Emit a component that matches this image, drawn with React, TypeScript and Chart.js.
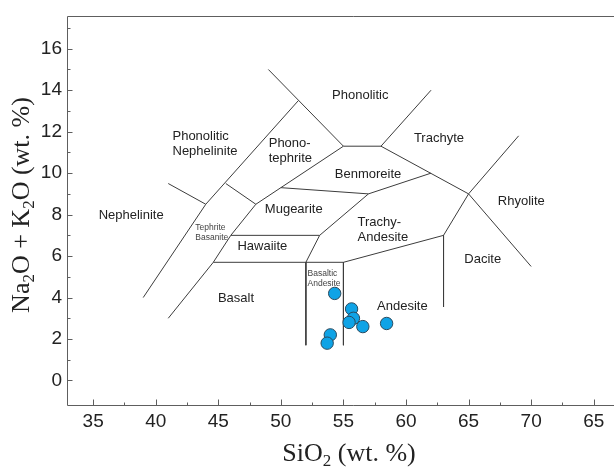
import React, { useEffect, useRef } from "react";
import { Chart, registerables } from "chart.js";

Chart.register(...registerables);

// Sample analyses
const sampleSiO2 = [54.3, 55.65, 55.8, 55.45, 56.55, 58.45, 53.95, 53.7];
const sampleAlkali = [4.2, 3.45, 3.0, 2.8, 2.6, 2.75, 2.2, 1.8];

// Axis ticks (the reference labels 75 as "65")
const xTickValues = [35, 40, 45, 50, 55, 60, 65, 70, 75];
const xTickLabels = ["35", "40", "45", "50", "55", "60", "65", "70", "65"];
const yTickValues = [0, 2, 4, 6, 8, 10, 12, 14, 16];
const yTickLabels = ["0", "2", "4", "6", "8", "10", "12", "14", "16"];
const xMinorTicks = [37.5, 42.5, 47.5, 52.5, 57.5, 62.5, 67.5, 72.5, 77.5];
const yMinorTicks = [1, 3, 5, 7, 9, 11, 13, 15, 17];

// TAS field boundaries (SiO2, Na2O+K2O)
const boundaryLines: number[][][] = [
  [[39, 4], [44, 8.5], [51.4, 13.5]],
  [[49, 15], [55, 11.3]],
  [[55, 11.3], [58, 11.3]],
  [[58, 11.3], [62, 14]],
  [[58, 11.3], [65, 9]],
  [[65, 9], [69, 11.8]],
  [[65, 9], [70, 5.5]],
  [[65, 9], [63, 7], [63, 3.55]],
  [[63, 7], [55, 5.7], [55, 1.7]],
  [[55, 5.7], [52, 5.7], [52, 1.7]],
  [[52, 5.7], [53.1, 7], [57, 9], [62, 10]],
  [[57, 9], [50, 9.3]],
  [[55, 11.3], [48, 8.5], [46, 7], [44.6, 5.7], [41, 3]],
  [[41, 9.5], [44, 8.5]],
  [[45.6, 9.5], [48, 8.5]],
  [[46, 7], [53.1, 7]],
  [[44.6, 5.7], [52, 5.7]],
];

// Field names: text, left SiO2, first-line alkali, small font flag
const fieldNames = [
  "Phonolitic", "Trachyte", "Phonolitic\nNephelinite", "Phono-\ntephrite",
  "Benmoreite", "Rhyolite", "Nephelinite", "Mugearite", "Trachy-\nAndesite",
  "Tephrite\nBasanite", "Hawaiite", "Dacite", "Basaltic\nAndesite", "Basalt", "Andesite",
];
const fieldX = [54.09, 60.63, 41.34, 49.03, 54.31, 67.34, 35.44, 48.72, 56.13, 43.16, 46.53, 64.66, 52.13, 44.97, 57.69];
const fieldY = [13.74, 11.66, 11.77, 11.42, 9.95, 8.63, 7.95, 8.23, 7.63, 7.39, 6.49, 5.85, 5.17, 3.95, 3.59];
const fieldSmall = [false, false, false, false, false, false, false, false, false, true, false, false, true, false, false];

type Part = { t: string; sub?: boolean };
const xTitle: Part[] = [{ t: "SiO" }, { t: "2", sub: true }, { t: " (wt. %)" }];
const yTitle: Part[] = [
  { t: "Na" }, { t: "2", sub: true }, { t: "O + K" }, { t: "2", sub: true }, { t: "O (wt. %)" },
];

const SERIF = "'Liberation Serif', 'Times New Roman', serif";
const SANS = "'Liberation Sans', Arial, sans-serif";

function drawRich(ctx: CanvasRenderingContext2D, parts: Part[], cx: number, baseY: number, size: number) {
  const subSize = Math.round(size * 0.66);
  let total = 0;
  const widths = parts.map((p) => {
    ctx.font = `${p.sub ? subSize : size}px ${SERIF}`;
    const w = ctx.measureText(p.t).width;
    total += w;
    return w;
  });
  let x = cx - total / 2;
  ctx.textAlign = "left";
  ctx.textBaseline = "alphabetic";
  parts.forEach((p, i) => {
    ctx.font = `${p.sub ? subSize : size}px ${SERIF}`;
    ctx.fillText(p.t, x, baseY + (p.sub ? size * 0.2 : 0));
    x += widths[i];
  });
}

const overlay = {
  id: "tasOverlay",
  beforeDatasetsDraw(chart: any) {
    const ctx: CanvasRenderingContext2D = chart.ctx;
    const xs = chart.scales.x;
    const ys = chart.scales.y;
    ctx.save();
    ctx.textAlign = "left";
    ctx.textBaseline = "middle";
    fieldNames.forEach((name, i) => {
      const size = fieldSmall[i] ? 8.5 : 13;
      ctx.font = `${size}px ${SANS}`;
      ctx.fillStyle = fieldSmall[i] ? "#444" : "#222";
      const lh = fieldSmall[i] ? 10 : 15;
      const px = xs.getPixelForValue(fieldX[i]);
      const py = ys.getPixelForValue(fieldY[i]);
      name.split("\n").forEach((line, j) => ctx.fillText(line, px, py + j * lh));
    });
    ctx.restore();
  },
  afterDraw(chart: any) {
    const ctx: CanvasRenderingContext2D = chart.ctx;
    const xs = chart.scales.x;
    const ys = chart.scales.y;
    const a = chart.chartArea;
    ctx.save();
    ctx.strokeStyle = "#5e5e5e";
    ctx.lineWidth = 1;
    const L = Math.round(a.left) + 0.5;
    const T = Math.round(a.top) + 0.5;
    const B = Math.round(a.bottom) - 0.5;
    ctx.beginPath();
    ctx.moveTo(chart.width, T);
    ctx.lineTo(L, T);
    ctx.lineTo(L, B);
    ctx.lineTo(chart.width, B);
    ctx.stroke();
    ctx.beginPath();
    xTickValues.forEach((v) => {
      const p = Math.round(xs.getPixelForValue(v)) + 0.5;
      ctx.moveTo(p, B);
      ctx.lineTo(p, B - 6);
    });
    xMinorTicks.forEach((v) => {
      const p = Math.round(xs.getPixelForValue(v)) + 0.5;
      ctx.moveTo(p, B);
      ctx.lineTo(p, B - 3);
    });
    yTickValues.forEach((v) => {
      const p = Math.round(ys.getPixelForValue(v)) + 0.5;
      ctx.moveTo(L, p);
      ctx.lineTo(L + 5, p);
    });
    yMinorTicks.forEach((v) => {
      const p = Math.round(ys.getPixelForValue(v)) + 0.5;
      ctx.moveTo(L, p);
      ctx.lineTo(L + 3, p);
    });
    ctx.stroke();

    ctx.fillStyle = "#222";
    drawRich(ctx, xTitle, 349, 461, 26);
    ctx.translate(29, 205);
    ctx.rotate(-Math.PI / 2);
    drawRich(ctx, yTitle, 0, 0, 26);
    ctx.restore();
  },
};

export default function App() {
  const ref = useRef<HTMLCanvasElement | null>(null);
  useEffect(() => {
    if (!ref.current) return;
    const lineSets = boundaryLines.map((line) => ({
      data: line.map(([x, y]) => ({ x, y })),
      showLine: true,
      borderColor: "#3c3c3c",
      borderWidth: 1,
      pointRadius: 0,
      fill: false,
    }));
    const chart = new Chart(ref.current, {
      type: "scatter",
      data: {
        datasets: [
          {
            data: sampleSiO2.map((x, i) => ({ x, y: sampleAlkali[i] })),
            pointRadius: 6.2,
            pointBorderWidth: 1,
            backgroundColor: "#0fa3e6",
            borderColor: "#2a4a5e",
          } as any,
          ...lineSets,
        ],
      },
      options: {
        animation: false,
        responsive: false,
        layout: { padding: { left: 0, right: 9, top: 9, bottom: 0 } },
        plugins: { legend: { display: false }, tooltip: { enabled: false } },
        scales: {
          x: {
            type: "linear",
            min: 32.91,
            max: 77.98,
            grid: { display: false, drawTicks: false },
            border: { display: false },
            afterBuildTicks: (s: any) => {
              s.ticks = xTickValues.map((v) => ({ value: v }));
            },
            afterFit: (s: any) => {
              s.height = 62;
            },
            ticks: {
              autoSkip: false,
              maxRotation: 0,
              padding: 4,
              color: "#222",
              font: { family: SANS, size: 19 },
              callback: (v: any) => xTickLabels[xTickValues.indexOf(Number(v))] ?? "",
            },
          },
          y: {
            type: "linear",
            min: -1.23,
            max: 17.56,
            grid: { display: false, drawTicks: false },
            border: { display: false },
            afterBuildTicks: (s: any) => {
              s.ticks = yTickValues.map((v) => ({ value: v }));
            },
            afterFit: (s: any) => {
              s.width = 67;
            },
            ticks: {
              autoSkip: false,
              padding: 5,
              color: "#222",
              font: { family: SANS, size: 19 },
              callback: (v: any) => yTickLabels[yTickValues.indexOf(Number(v))] ?? "",
            },
          },
        },
      },
      plugins: [overlay],
    });
    return () => chart.destroy();
  }, []);
  return (
    <div
      style={{
        position: "absolute",
        left: 0,
        top: 0,
        width: 614,
        height: 468,
        overflow: "hidden",
        background: "#fff",
      }}
    >
      <canvas ref={ref} width={640} height={468} style={{ display: "block" }} />
    </div>
  );
}
